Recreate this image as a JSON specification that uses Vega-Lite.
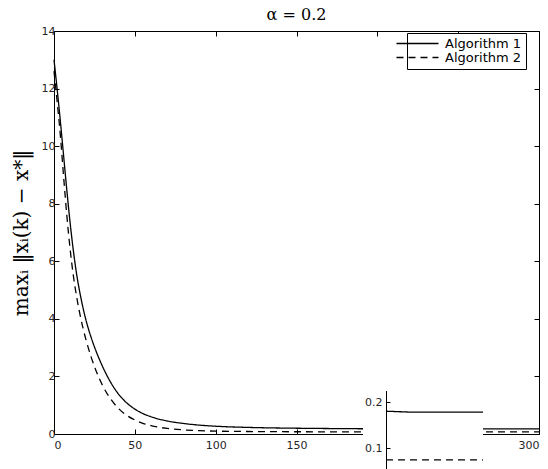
{
  "$schema": "https://vega.github.io/schema/vega-lite/v6.json",
  "width": 485,
  "height": 403,
  "autosize": {"type": "none"},
  "padding": {"left": 54, "top": 31, "right": 9, "bottom": 35},
  "background": "white",
  "title": {"text": "α = 0.2", "font": "DejaVu Serif", "fontSize": 16, "fontWeight": "normal", "color": "black", "offset": 2},
  "datasets": {
    "conv": [
      {"k": 0, "v": 13.0, "alg": "Algorithm 1"},
      {"k": 2, "v": 11.95, "alg": "Algorithm 1"},
      {"k": 4, "v": 10.83, "alg": "Algorithm 1"},
      {"k": 6, "v": 9.63, "alg": "Algorithm 1"},
      {"k": 8, "v": 8.43, "alg": "Algorithm 1"},
      {"k": 10, "v": 7.32, "alg": "Algorithm 1"},
      {"k": 12, "v": 6.36, "alg": "Algorithm 1"},
      {"k": 14, "v": 5.55, "alg": "Algorithm 1"},
      {"k": 16, "v": 4.91, "alg": "Algorithm 1"},
      {"k": 18, "v": 4.37, "alg": "Algorithm 1"},
      {"k": 20, "v": 3.91, "alg": "Algorithm 1"},
      {"k": 23, "v": 3.35, "alg": "Algorithm 1"},
      {"k": 26, "v": 2.88, "alg": "Algorithm 1"},
      {"k": 30, "v": 2.35, "alg": "Algorithm 1"},
      {"k": 35, "v": 1.8, "alg": "Algorithm 1"},
      {"k": 40, "v": 1.38, "alg": "Algorithm 1"},
      {"k": 45, "v": 1.08, "alg": "Algorithm 1"},
      {"k": 50, "v": 0.865, "alg": "Algorithm 1"},
      {"k": 55, "v": 0.71, "alg": "Algorithm 1"},
      {"k": 60, "v": 0.6, "alg": "Algorithm 1"},
      {"k": 70, "v": 0.453, "alg": "Algorithm 1"},
      {"k": 80, "v": 0.366, "alg": "Algorithm 1"},
      {"k": 90, "v": 0.308, "alg": "Algorithm 1"},
      {"k": 100, "v": 0.27, "alg": "Algorithm 1"},
      {"k": 120, "v": 0.229, "alg": "Algorithm 1"},
      {"k": 140, "v": 0.207, "alg": "Algorithm 1"},
      {"k": 160, "v": 0.195, "alg": "Algorithm 1"},
      {"k": 180, "v": 0.186, "alg": "Algorithm 1"},
      {"k": 200, "v": 0.18, "alg": "Algorithm 1"},
      {"k": 225, "v": 0.178, "alg": "Algorithm 1"},
      {"k": 250, "v": 0.178, "alg": "Algorithm 1"},
      {"k": 275, "v": 0.178, "alg": "Algorithm 1"},
      {"k": 300, "v": 0.178, "alg": "Algorithm 1"},
      {"k": 0, "v": 12.6, "alg": "Algorithm 2"},
      {"k": 2, "v": 11.52, "alg": "Algorithm 2"},
      {"k": 4, "v": 10.33, "alg": "Algorithm 2"},
      {"k": 6, "v": 8.9, "alg": "Algorithm 2"},
      {"k": 8, "v": 7.55, "alg": "Algorithm 2"},
      {"k": 10, "v": 6.41, "alg": "Algorithm 2"},
      {"k": 12, "v": 5.49, "alg": "Algorithm 2"},
      {"k": 14, "v": 4.77, "alg": "Algorithm 2"},
      {"k": 16, "v": 4.17, "alg": "Algorithm 2"},
      {"k": 18, "v": 3.66, "alg": "Algorithm 2"},
      {"k": 20, "v": 3.23, "alg": "Algorithm 2"},
      {"k": 23, "v": 2.67, "alg": "Algorithm 2"},
      {"k": 26, "v": 2.2, "alg": "Algorithm 2"},
      {"k": 30, "v": 1.69, "alg": "Algorithm 2"},
      {"k": 35, "v": 1.22, "alg": "Algorithm 2"},
      {"k": 40, "v": 0.88, "alg": "Algorithm 2"},
      {"k": 45, "v": 0.647, "alg": "Algorithm 2"},
      {"k": 50, "v": 0.486, "alg": "Algorithm 2"},
      {"k": 55, "v": 0.37, "alg": "Algorithm 2"},
      {"k": 60, "v": 0.29, "alg": "Algorithm 2"},
      {"k": 70, "v": 0.193, "alg": "Algorithm 2"},
      {"k": 80, "v": 0.143, "alg": "Algorithm 2"},
      {"k": 90, "v": 0.116, "alg": "Algorithm 2"},
      {"k": 100, "v": 0.1, "alg": "Algorithm 2"},
      {"k": 120, "v": 0.086, "alg": "Algorithm 2"},
      {"k": 140, "v": 0.08, "alg": "Algorithm 2"},
      {"k": 160, "v": 0.077, "alg": "Algorithm 2"},
      {"k": 180, "v": 0.075, "alg": "Algorithm 2"},
      {"k": 200, "v": 0.074, "alg": "Algorithm 2"},
      {"k": 225, "v": 0.074, "alg": "Algorithm 2"},
      {"k": 250, "v": 0.074, "alg": "Algorithm 2"},
      {"k": 275, "v": 0.074, "alg": "Algorithm 2"},
      {"k": 300, "v": 0.074, "alg": "Algorithm 2"}
    ]
  },
  "data": {"name": "conv"},
  "layer": [
    {
      "mark": {"type": "line", "color": "black", "strokeWidth": 1.3, "interpolate": "monotone"},
      "encoding": {
        "x": {"field": "k", "type": "quantitative",
          "scale": {"domain": [0, 300], "nice": false, "zero": false},
          "axis": {"orient": "bottom", "values": [0, 50, 100, 150, 300], "title": null, "tickSize": -5, "labelPadding": 10}},
        "y": {"field": "v", "type": "quantitative",
          "scale": {"domain": [0, 14], "nice": false},
          "axis": {"orient": "left", "values": [0, 2, 4, 6, 8, 10, 12, 14], "title": "maxᵢ ‖xᵢ(k) − x*‖", "tickSize": -5, "labelPadding": 4, "titlePadding": 10}},
        "strokeDash": {"field": "alg", "type": "nominal",
          "scale": {"domain": ["Algorithm 1", "Algorithm 2"], "range": [[1, 0], [7, 5]]},
          "legend": {"orient": "none", "legendX": 353, "legendY": 2, "title": null, "symbolType": "M-4.67,0H4.67", "symbolSize": 81, "symbolStrokeWidth": 1.3, "symbolStrokeColor": "black", "labelFont": "DejaVu Sans", "labelFontSize": 13, "labelColor": "black", "strokeColor": "black", "fillColor": "white", "padding": 4, "labelOffset": 21, "rowPadding": 0, "cornerRadius": 0}}
      }
    },
    {
      "mark": {"type": "line", "opacity": 0},
      "encoding": {
        "x": {"field": "k", "type": "quantitative",
          "scale": {"domain": [0, 300], "nice": false, "zero": false},
          "axis": {"orient": "top", "values": [0, 50, 100, 150, 200, 250, 300], "title": null, "labels": false, "tickSize": -5}},
        "y": {"field": "v", "type": "quantitative",
          "scale": {"domain": [0, 14], "nice": false},
          "axis": {"orient": "right", "values": [0, 2, 4, 6, 8, 10, 12, 14], "title": null, "labels": false, "tickSize": -5}},
        "detail": {"field": "alg"}
      }
    },
    {
      "transform": [{"filter": "datum.k >= 200"}],
      "layer": [
        {
          "mark": {"type": "rect", "color": "white"},
          "encoding": {
            "x": {"datum": 177, "type": "quantitative"},
            "x2": {"datum": 300},
            "y": {"datum": 0.225, "type": "quantitative"},
            "y2": {"datum": 0}
          }
        },
        {
          "mark": {"type": "line", "color": "black", "strokeWidth": 1.3},
          "encoding": {
            "x": {"field": "k", "type": "quantitative"},
            "y": {"field": "v", "type": "quantitative"},
            "strokeDash": {"field": "alg", "type": "nominal"}
          }
        }
      ],
      "encoding": {
        "x": {"field": "k", "type": "quantitative",
          "scale": {"domain": [200, 300], "range": [332, 429], "nice": false, "zero": false},
          "axis": null},
        "y": {"field": "v", "type": "quantitative",
          "scale": {"domain": [0.05, 0.225], "range": [440, 359.5], "nice": false, "zero": false},
          "axis": {"orient": "left", "offset": -332, "values": [0.1, 0.2], "format": ".1f", "title": null, "domain": true, "domainColor": "black", "tickSize": -4, "labelPadding": 8, "zindex": 1}}
      }
    }
  ],
  "resolve": {"scale": {"x": "independent", "y": "independent"}},
  "config": {
    "view": {"stroke": "black", "strokeWidth": 1},
    "axis": {"labelFont": "DejaVu Sans", "labelFontSize": 11, "labelColor": "#262626", "tickColor": "black", "tickWidth": 1, "domain": false, "grid": false, "titleFont": "DejaVu Serif", "titleFontSize": 20, "titleFontWeight": "normal", "titleColor": "black"}
  }
}
